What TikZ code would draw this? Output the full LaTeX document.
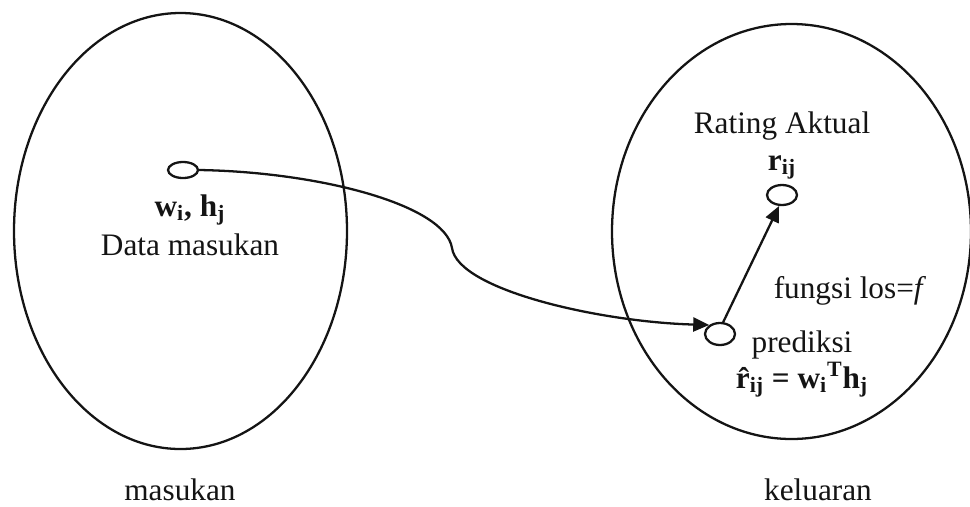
\documentclass[tikz,border=0pt]{standalone}
\usepackage{fontspec}
\setmainfont{Liberation Serif}
\usepackage{tikz}
\usetikzlibrary{shapes.geometric, arrows.meta, positioning}
\definecolor{myink}{RGB}{20,20,20}
\tikzset{
  region/.style={ellipse, draw=myink, line width=1.3pt, inner sep=0pt},
  dot/.style={ellipse, draw=myink, line width=1.3pt, inner sep=0pt,
    minimum width=0.6cm},
  lbl/.style={anchor=base, inner sep=0pt,
    font=\fontsize{17.8}{21}\selectfont, text=myink},
  arrow/.style={-{Triangle[length=0.32cm, width=0.28cm]}, line width=1.3pt, color=myink}
}

\begin{document}
\begin{tikzpicture}
  \useasboundingbox (0,0) rectangle (19.4,-10.12);

  % Input and output regions
  \node[region, minimum width=6.66cm, minimum height=8.72cm] (inreg) at (3.61,-4.62) {};
  \node[region, minimum width=7.18cm, minimum height=8.30cm] (outreg) at (15.83,-4.63) {};

  % Points
  \node[dot, minimum height=0.32cm] (win) at (3.66,-3.40) {};
  \node[dot, minimum height=0.40cm] (rij) at (15.64,-3.90) {};
  \node[dot, minimum height=0.44cm] (pred) at (14.40,-6.68) {};

  % Labels
  \node[lbl] (whlbl) at (3.80,-4.32) {\textbf{w\textsubscript{i}, h\textsubscript{j}}};
  \node[lbl] (datalbl) at (3.80,-5.10) {Data masukan};
  \node[lbl] (inlbl) at (3.60,-10.00) {masukan};
  \node[lbl] (outlbl) at (16.36,-10.00) {keluaran};
  \node[lbl] (ratinglbl) at (15.64,-2.66) {Rating Aktual};
  \node[lbl] (rijlbl) at (15.64,-3.40) {\textbf{r\textsubscript{ij}}};
  \node[lbl] (losslbl) at (17.00,-5.96) {fungsi los=\textit{f}};
  \node[lbl] (predlbl) at (16.04,-7.04) {prediksi};
  \node[lbl] (formlbl) at (16.04,-7.76)
    {\textbf{\^{r}\textsubscript{ij} = w\textsubscript{i}\textsuperscript{T}h\textsubscript{j}}};

  % Connectors
  \coordinate (bend) at (9.04,-4.96);
  \draw[arrow] (win.east) .. controls (6.4,-3.44) and (8.9,-4.10) .. (bend)
    .. controls (9.16,-5.80) and (12.0,-6.44) .. (pred.140);
  \draw[arrow] (pred.75) -- (rij.255);
\end{tikzpicture}
\end{document}
